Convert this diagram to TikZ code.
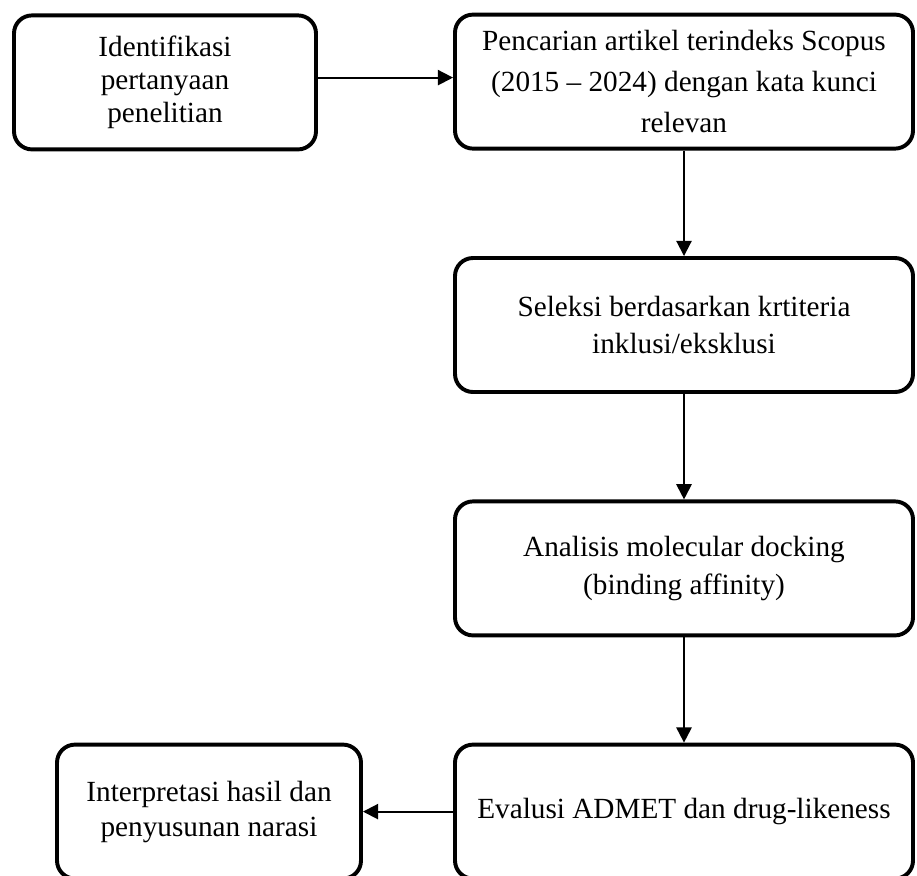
\documentclass[tikz,border=0pt]{standalone}
\usepackage{fontspec}
\setmainfont{Liberation Serif}
\usetikzlibrary{arrows.meta}

\begin{document}
\begin{tikzpicture}[>={Triangle[length=0.38cm,width=0.38cm]},
  langkah/.style={draw,line width=2.8pt,rounded corners=0.45cm,align=center,inner sep=0pt,
    minimum width=11.45cm,minimum height=3.35cm,font=\fontsize{20.8pt}{27pt}\selectfont},
  panah/.style={->,line width=1.4pt}]

\useasboundingbox (0,0) rectangle (22.925,-21.875);

\node[langkah,minimum width=7.55cm,font=\fontsize{20.8pt}{23.5pt}\selectfont] (identifikasi) at (4.125,-2.06) {Identifikasi\\pertanyaan\\penelitian};
\node[langkah,font=\fontsize{20.8pt}{29.2pt}\selectfont] (pencarian) at (17.1,-2.04) {Pencarian artikel terindeks Scopus\\(2015 -- 2024) dengan kata kunci\\relevan};
\node[langkah] (seleksi) at (17.1,-8.125) {Seleksi berdasarkan krtiteria\\inklusi/eksklusi};
\node[langkah] (docking) at (17.1,-14.21) {Analisis molecular docking\\(binding affinity)};
\node[langkah] (admet) at (17.1,-20.29) {Evalusi ADMET dan drug-likeness};
\node[langkah,minimum width=7.6cm,font=\fontsize{20.8pt}{24.9pt}\selectfont] (interpretasi) at (5.225,-20.29) {Interpretasi hasil dan\\penyusunan narasi};

\draw[panah] ([yshift=0.12cm]identifikasi.east) -- ([yshift=0.12cm]identifikasi.east -| pencarian.west);
\draw[panah] (pencarian) -- (seleksi);
\draw[panah] (seleksi) -- (docking);
\draw[panah] (docking) -- (admet);
\draw[panah] (admet) -- (interpretasi);

\end{tikzpicture}
\end{document}
